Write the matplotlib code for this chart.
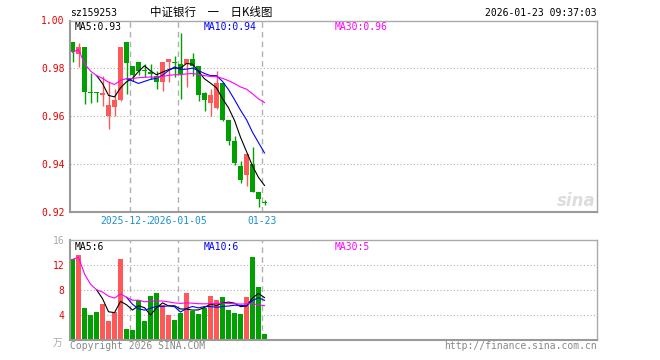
import numpy as np
import pandas as pd
import matplotlib
matplotlib.use('Agg')
from matplotlib import pyplot as plt

# 日K数据
opens = [0.9910, 0.9860, 0.9888, 0.9697, 0.9697, 0.9686, 0.9602, 0.9639, 0.9667, 0.9908,
         0.9808, 0.9826, 0.9793, 0.9786, 0.9769, 0.9741, 0.9828, 0.9828, 0.9818, 0.9816,
         0.9840, 0.9810, 0.9698, 0.9653, 0.9635, 0.9740, 0.9585, 0.9494, 0.9392, 0.9354,
         0.9399, 0.9283, 0.9238]
highs = [0.9910, 0.9907, 0.9888, 0.9780, 0.9700, 0.9768, 0.9747, 0.9715, 0.9890, 0.9908,
         0.9808, 0.9828, 0.9818, 0.9816, 0.9790, 0.9825, 0.9839, 0.9853, 0.9947, 0.9839,
         0.9863, 0.9810, 0.9700, 0.9715, 0.9789, 0.9740, 0.9585, 0.9515, 0.9410, 0.9441,
         0.9470, 0.9283, 0.9248]
lows = [0.9825, 0.9807, 0.9650, 0.9655, 0.9660, 0.9641, 0.9547, 0.9599, 0.9662, 0.9691,
        0.9748, 0.9770, 0.9762, 0.9755, 0.9713, 0.9706, 0.9741, 0.9762, 0.9671, 0.9720,
        0.9768, 0.9662, 0.9620, 0.9599, 0.9630, 0.9578, 0.9480, 0.9396, 0.9319, 0.9307,
        0.9280, 0.9218, 0.9227]
closes = [0.9867, 0.9891, 0.9700, 0.9695, 0.9695, 0.9698, 0.9644, 0.9667, 0.9887, 0.9820,
          0.9770, 0.9788, 0.9787, 0.9778, 0.9741, 0.9825, 0.9839, 0.9821, 0.9776, 0.9839,
          0.9810, 0.9686, 0.9667, 0.9686, 0.9740, 0.9585, 0.9494, 0.9403, 0.9333, 0.9441,
          0.9283, 0.9253, 0.9235]
volumes = [12.9, 13.6, 5.2, 4.0, 4.5, 5.8, 3.1, 4.5, 13.0, 1.8,
           1.6, 6.4, 3.1, 7.0, 7.6, 5.6, 4.0, 3.2, 4.4, 7.6,
           4.7, 4.2, 5.2, 7.0, 6.4, 6.9, 4.8, 4.4, 4.2, 6.9,
           13.3, 8.5, 1.0]

date_ticks = [10, 18, 32]
date_labels = ['2025-12-22', '2026-01-05', '01-23']
price_ticks = [0.92, 0.94, 0.96, 0.98, 1.00]
vol_ticks = [4, 8, 12, 16]
price_legend = ['MA5:0.93', 'MA10:0.94', 'MA30:0.96']
vol_legend = ['MA5:6', 'MA10:6', 'MA30:5']

df = pd.DataFrame({'o': opens, 'h': highs, 'l': lows, 'c': closes, 'v': volumes})
ma_c = [df.c.rolling(5).mean(), df.c.rolling(10).mean(), df.c.rolling(30, min_periods=1).mean()]
ma_v = [df.v.rolling(5).mean(), df.v.rolling(10).mean(), df.v.rolling(30, min_periods=1).mean()]

RED = '#ff5858'
GREEN = '#00a000'
MA_COLORS = ['black', '#0000ff', '#ff00ff']
MONO = 'DejaVu Sans Mono'
GRID = '#b0b0b0'

W, H = 660, 360
def rect(l, t, r, b):
    return [l / W, 1 - b / H, (r - l) / W, (b - t) / H]

fig = plt.figure(figsize=(6.6, 3.6), dpi=100)
ax = fig.add_axes(rect(70, 20.5, 597, 211.5))
axv = fig.add_axes(rect(70, 240, 597, 340))

x = np.arange(len(df))
up = df.c >= df.o
cols = np.where(up, RED, GREEN)

# 价格
ax.vlines(x, df.l, df.h, color=cols, lw=1)
body_h = np.maximum((df.c - df.o).abs(), 0.0004)
ax.bar(x, body_h, bottom=np.minimum(df.o, df.c), width=0.83, color=cols, linewidth=0)
for m, colr in zip(ma_c, MA_COLORS):
    ax.plot(x, m, color=colr, lw=0.8)

# 成交量
axv.bar(x, df.v, width=0.83, color=cols, linewidth=0)
for m, colr in zip(ma_v, MA_COLORS):
    axv.plot(x, m, color=colr, lw=0.8)

for a in (ax, axv):
    a.set_xlim(-0.42, 87.42)
    for t in date_ticks:
        a.axvline(t - 0.42, color=GRID, lw=1, ls=(0, (4, 3)), zorder=0)
    a.set_xticks([])
    for s in ['left', 'bottom']:
        a.spines[s].set_color('#999999')
        a.spines[s].set_linewidth(1.5)
    for s in ['top', 'right']:
        a.spines[s].set_color('#aaaaaa')
        a.spines[s].set_linewidth(1)
    a.tick_params(axis='y', length=0, pad=4, labelsize=7)

ax.set_ylim(0.92, 1.00)
ax.set_yticks(price_ticks)
ax.set_yticklabels(['%.2f' % p for p in price_ticks], color='#ee0000', family=MONO)
for p in price_ticks[1:-1]:
    ax.axhline(p, color=GRID, lw=0.8, ls=(0, (1, 2)), zorder=0)

axv.set_ylim(0, 16)
axv.set_yticks(vol_ticks)
axv.set_yticklabels([str(v) for v in vol_ticks], family=MONO)
for lab in axv.get_yticklabels():
    lab.set_color('#ee0000')
axv.get_yticklabels()[-1].set_color('#aaaaaa')
for v in vol_ticks[:-1]:
    axv.axhline(v, color=GRID, lw=0.8, ls=(0, (1, 2)), zorder=0)

# 日期 (第二个标签压住第一个标签的尾部, 与原图一致)
tr = ax.get_xaxis_transform()
for i, (t, lab) in enumerate(zip(date_ticks, date_labels)):
    kw = {}
    if i == 1:
        kw['bbox'] = dict(facecolor='white', edgecolor='none', pad=0)
    ax.text(t - 0.42, -0.052, lab, transform=tr, ha='center', va='center',
            fontsize=7, family=MONO, color='#1a8fd6', **kw)

# 图例文字
leg_x = [0.0095, 0.254, 0.503]
for s, lx, colr in zip(price_legend, leg_x, MA_COLORS):
    ax.text(lx, 0.967, s, transform=ax.transAxes, fontsize=7, family=MONO,
            color=colr, va='center', ha='left')
for s, lx, colr in zip(vol_legend, leg_x, MA_COLORS):
    axv.text(lx, 0.933, s, transform=axv.transAxes, fontsize=7, family=MONO,
             color=colr, va='center', ha='left')

# 标题等
fig.text(70 / W, 1 - 12.5 / H, 'sz159253', fontsize=7, family=MONO, va='center')
fig.text(150 / W, 1 - 12.5 / H, '中证银行　一　日K线图', fontsize=8.3,
         family=['Noto Sans CJK SC', 'DejaVu Sans'], va='center')
fig.text(597 / W, 1 - 12.5 / H, '2026-01-23 09:37:03', fontsize=7, family=MONO,
         va='center', ha='right')
fig.text(70 / W, 1 - 346 / H, 'Copyright 2026 SINA.COM', fontsize=7, family=MONO,
         va='center', color='#888888')
fig.text(597 / W, 1 - 346 / H, 'http://finance.sina.com.cn', fontsize=7, family=MONO,
         va='center', ha='right', color='#888888')
fig.text(62 / W, 1 - 343 / H, '万', fontsize=7, family=['Noto Sans CJK SC', 'DejaVu Sans'],
         va='center', ha='right', color='#aaaaaa')
fig.text(596 / W, 1 - 201 / H, 'sina', fontsize=12, fontweight='bold', style='italic',
         va='center', ha='right', color='#dddddd')

fig.savefig('out.png', dpi=100)
